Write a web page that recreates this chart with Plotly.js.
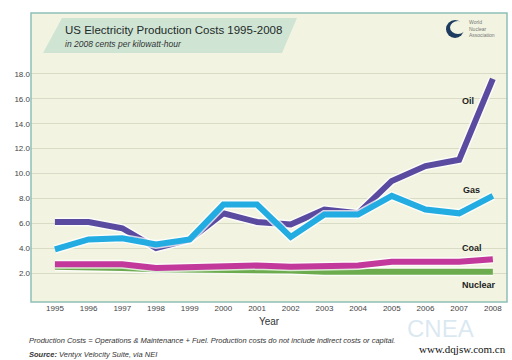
<!DOCTYPE html>
<html><head><meta charset="utf-8">
<script src="https://cdn.plot.ly/plotly-3.0.1.min.js"></script>
<style>html,body{margin:0;padding:0;background:#fff;}#c{width:512px;height:360px;}</style>
</head><body><div id="c"></div>
<script>
const years = [1995,1996,1997,1998,1999,2000,2001,2002,2003,2004,2005,2006,2007,2008];
const oil     = [6.1,6.1,5.6,4.0,4.7,6.8,6.1,5.9,7.1,6.8,9.4,10.6,11.1,17.6];
const gas     = [3.9,4.7,4.8,4.3,4.7,7.5,7.5,4.9,6.7,6.7,8.2,7.1,6.8,8.2];
const coal    = [2.7,2.7,2.7,2.4,2.5,2.5,2.6,2.5,2.6,2.6,2.9,2.9,2.9,3.1];
const nuclear = [2.5,2.5,2.4,2.3,2.3,2.2,2.2,2.2,2.1,2.1,2.1,2.1,2.1,2.1];
const yTicks = [2,4,6,8,10,12,14,16,18];
const yTickText = ["2.0","4.0","6.0","8.0","10.0","12.0","14.0","16.0","18.0"];
const seriesNames = ["Nuclear","Coal","Oil","Gas"];
const seriesData = [nuclear, coal, oil, gas];
const seriesColors = ["#6cab4e","#c2389b","#5a4aa0","#22ace2"];

const traces = [];
seriesData.forEach((d,i)=>{
  traces.push({x:years,y:d,type:'scatter',mode:'lines',hoverinfo:'skip',showlegend:false,
    line:{color:'rgba(255,255,255,0.75)',width:9}});
  traces.push({x:years,y:d,type:'scatter',mode:'lines',name:seriesNames[i],showlegend:false,
    line:{color:seriesColors[i],width:6}});
});

const L=31,R=507,T=13,B=302;
const px=(x)=>(x-L)/(R-L), py=(y)=>(B-y)/(B-T);

const layout = {
  width:512,height:360,
  margin:{l:L,r:512-R,t:T,b:360-B},
  paper_bgcolor:'#ffffff',plot_bgcolor:'#f2f4e1',
  font:{family:'Liberation Sans, Arial, sans-serif',color:'#333'},
  xaxis:{range:[1994.29,2008.42],tickvals:years,ticktext:years.map(String),showgrid:false,zeroline:false,
    showline:false,ticks:'',tickfont:{size:8,color:'#444'},
    title:{text:'Year',font:{size:10,color:'#333'},standoff:5}},
  yaxis:{range:[-0.33,22.9],tickvals:yTicks,ticktext:yTickText,showgrid:true,gridcolor:'#d9dcc4',gridwidth:1,
    zeroline:false,showline:false,ticks:'',tickfont:{size:8,color:'#444'}},
  shapes:[
    {type:'rect',xref:'paper',yref:'paper',x0:0,x1:1,y0:0,y1:1,line:{color:'#8fc0b6',width:1.5},layer:'above'},
    {type:'path',xref:'paper',yref:'paper',
      path:`M ${px(43)} ${py(53)} L ${px(62)} ${py(18)} L ${px(297)} ${py(18)} L ${px(282)} ${py(53)} Z`,
      fillcolor:'#cfe4d3',line:{width:0},layer:'below'},
    {type:'circle',xref:'paper',yref:'paper',x0:px(446),x1:px(464),y0:py(38),y1:py(20),
      fillcolor:'#1d3b5e',line:{width:0}},
    {type:'circle',xref:'paper',yref:'paper',x0:px(450),x1:px(466),y0:py(34),y1:py(21),
      fillcolor:'#f2f4e1',line:{width:0}}
  ],
  annotations:[
    {xref:'paper',yref:'paper',x:px(63),y:py(30),text:'US Electricity Production Costs 1995-2008',showarrow:false,
      xanchor:'left',yanchor:'middle',font:{size:11.5,color:'#1e2a2a'}},
    {xref:'paper',yref:'paper',x:px(63),y:py(44),text:'<i>in 2008 cents per kilowatt-hour</i>',showarrow:false,
      xanchor:'left',yanchor:'middle',font:{size:8.5,color:'#333'}},
    {xref:'paper',yref:'paper',x:px(467),y:py(29),text:'World<br>Nuclear<br>Association',showarrow:false,
      xanchor:'left',yanchor:'middle',align:'left',font:{size:5,color:'#777'}},
    {x:2007.26,y:15.8,text:'<b>Oil</b>',showarrow:false,font:{size:9,color:'#222'}},
    {x:2007.37,y:8.7,text:'<b>Gas</b>',showarrow:false,font:{size:9,color:'#222'}},
    {x:2007.37,y:4.0,text:'<b>Coal</b>',showarrow:false,font:{size:9,color:'#222'}},
    {x:2007.6,y:1.0,text:'<b>Nuclear</b>',showarrow:false,font:{size:9,color:'#222'}},
    {xref:'paper',yref:'paper',x:px(440),y:py(328),text:'CNEA',showarrow:false,xanchor:'center',yanchor:'middle',
      font:{size:24,color:'rgba(150,190,215,0.35)'}},
    {xref:'paper',yref:'paper',x:px(27),y:py(340),text:'<i>Production Costs = Operations &amp; Maintenance + Fuel. Production costs do not include indirect costs or capital.</i>',
      showarrow:false,xanchor:'left',yanchor:'middle',font:{size:7.5,color:'#333'}},
    {xref:'paper',yref:'paper',x:px(27),y:py(354),text:'<i><b>Source:</b> Ventyx Velocity Suite, via NEI</i>',
      showarrow:false,xanchor:'left',yanchor:'middle',font:{size:7.5,color:'#333'}},
    {xref:'paper',yref:'paper',x:px(508),y:py(349),text:'www.dqjsw.com.cn',showarrow:false,xanchor:'right',yanchor:'middle',
      font:{size:11,color:'#111',family:'Liberation Serif, DejaVu Serif, serif'}}
  ]
};
Plotly.newPlot('c',traces,layout,{displayModeBar:false,staticPlot:true});
</script></body></html>
